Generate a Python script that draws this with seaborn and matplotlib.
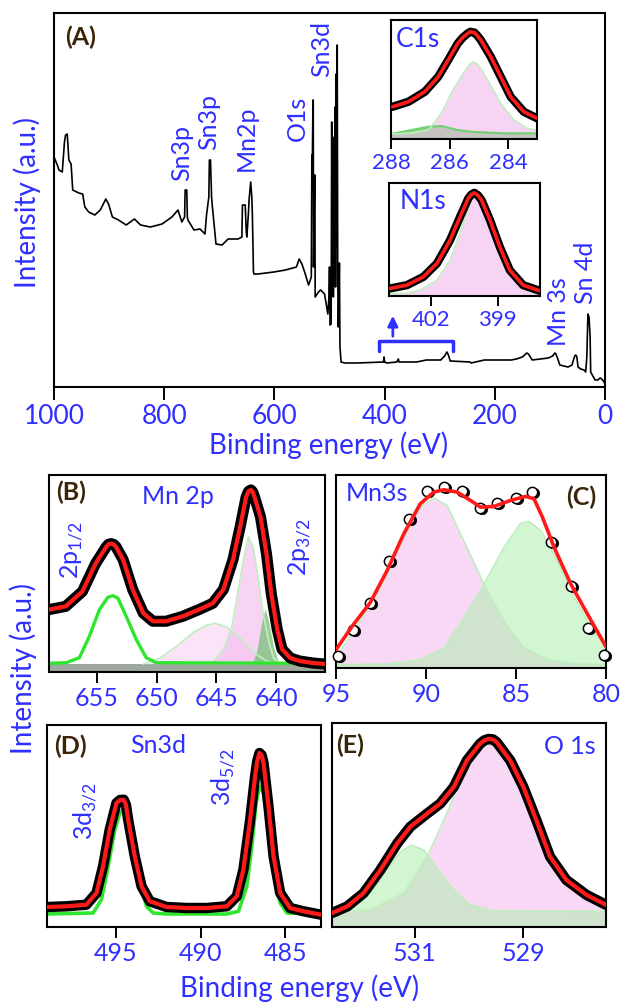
import numpy as np
import matplotlib
matplotlib.use("Agg")
import matplotlib.pyplot as plt
import matplotlib.transforms as mtransforms
import seaborn as sns

# ---------------- data ----------------
# (A) survey spectrum
survey_ev = [1000, 994, 991, 985, 981, 979, 976, 973, 969, 966, 955, 948, 944, 937, 926, 916, 908, 906, 901, 894,
             883, 869, 854, 843, 825, 804, 786, 775, 768, 763, 762, 759, 758, 757, 746, 735, 726, 723, 719, 718,
             716, 714, 713, 706, 695, 684, 666, 659, 658, 653, 651, 650, 647, 646, 643, 641, 640, 638, 637, 630,
             601, 580, 560, 555, 550, 544, 538, 533, 532, 531, 530, 529.5, 529, 527, 526.5, 526, 520, 516, 509, 505,
             503, 501, 500, 499, 497, 496, 495, 494, 493, 492, 491, 490, 489, 488, 487, 486, 485, 484, 482, 481,
             479, 472, 450, 402, 401, 400, 396, 378, 375, 374, 342, 324, 310, 298, 293, 291, 287, 285, 283, 281,
             280, 245, 243, 219, 204, 170, 161, 150, 142, 139, 132, 118, 103, 95, 91, 89, 85, 82, 75, 67,
             60, 55, 53, 51, 49, 44, 38, 35, 33, 31, 29, 27, 26, 24, 18, 13, 9, 6, 3, 0]
survey_int = [230, 222, 217, 215, 245, 252, 253, 227, 223, 197, 194, 193, 180, 175, 172, 177, 186, 188, 183, 170,
              167, 162, 168, 162, 160, 163, 170, 177, 165, 170, 197, 197, 170, 167, 157, 158, 153, 173, 190, 227,
              227, 190, 183, 143, 142, 148, 148, 150, 182, 182, 155, 150, 175, 187, 205, 190, 173, 115, 113, 113,
              115, 117, 120, 128, 123, 113, 102, 110, 232, 232, 287, 287, 120, 212, 212, 90, 95, 97, 93, 80,
              73, 90, 120, 62, 63, 265, 130, 250, 90, 200, 120, 280, 100, 313, 140, 342, 110, 60, 124, 40,
              25, 24, 24, 25, 30, 25, 24, 25, 28, 25, 25, 27, 27, 27, 30, 31, 35, 33, 30, 26,
              26, 25, 24, 27, 27, 27, 28, 30, 34, 33, 27, 28, 29, 31, 34, 33, 27, 22, 21, 20,
              22, 31, 32, 30, 20, 18, 17, 15, 30, 73, 70, 50, 15, 13, 7, 7, 9, 8, 6, 3]
survey_ticks = [1000, 800, 600, 400, 200, 0]
survey_peaks = ["Sn3p", "Sn3p", "Mn2p", "O1s", "Sn3d", "Mn 3s", "Sn 4d"]
survey_peak_ev = [769, 719, 651, 559, 514, 84, 36]
survey_peak_int = [234, 265, 249, 269, 338, 75, 114]
bracket_ev = [410, 410, 276, 276]
bracket_int = [36, 46, 46, 36]
arrow_ev = [385, 385]
arrow_int = [48, 74]

# C1s inset
c1_fit_ev = [287.95, 287.41, 286.85, 286.39, 286.05, 285.72, 285.55, 285.38, 285.29, 285.15, 285.05, 284.93,
             284.59, 284.25, 283.91, 283.46, 283.0]
c1_fit = [32.3, 37.3, 47.3, 62.3, 79, 95.7, 101.5, 105.7, 107.3, 106.5, 103.5, 99,
          82.3, 62.3, 42.3, 27.3, 20.7]
c1_main_ev = [288.0, 287.3, 286.73, 286.28, 285.83, 285.38, 285.21, 285.05, 284.9, 284.70, 284.25, 283.80, 283.34, 283.0]
c1_main = [5, 6, 9, 25.7, 52.3, 72.3, 77.3, 75, 69, 59, 35.7, 19, 10.7, 8.3]
c1_minor_ev = [288.0, 287.3, 286.73, 286.28, 285.72, 285.26, 284.14, 283.0]
c1_minor = [5, 9, 12.3, 13, 9, 7.3, 5.7, 5.7]
c1_ticks = [288, 286, 284]

# N1s inset
n1_fit_ev = [403.84, 403.09, 402.35, 401.74, 401.15, 400.70, 400.33, 400.2, 400.06, 399.9, 399.73, 399.35, 398.91,
             398.46, 397.86, 397.11]
n1_fit = [7.7, 11, 19.3, 32.7, 56, 79.3, 97.7, 101.5, 103.3, 101, 96, 76, 49.3, 26, 11, 5.3]
n1_main_ev = [403.84, 403.09, 402.49, 401.74, 401.15, 400.70, 400.33, 400.18, 400.03, 399.85, 399.65, 399.21,
              398.76, 398.31, 397.71, 397.11]
n1_main = [2.3, 3, 6, 16, 36, 62.7, 89.3, 96.5, 99.3, 97.5, 92.7, 69.3, 42.7, 21, 9.3, 5.3]
n1_ticks = [402, 399]

# (B) Mn 2p
b_fit_ev = [659.0, 657.6, 656.2, 655.1, 654.2, 654.0, 653.8, 653.6, 653.4, 652.8, 652.0, 651.1, 650.3, 649.2,
            647.8, 646.4, 645.3, 644.4, 643.6, 643.0, 642.5, 642.3, 642.1, 641.95, 641.8, 641.3, 640.8, 640.4,
            639.9, 639.5, 638.8, 638.0, 636.9, 635.9]
b_fit = [62.7, 66, 81, 109, 126, 128.5, 129, 128.3, 126, 113, 83, 59, 51, 51,
         56, 63, 69, 83, 113, 146, 176, 181.5, 183, 181, 176, 156, 119, 79,
         43, 23, 14, 11, 9, 8]
b_p12_ev = [659.03, 657.58, 656.46, 655.62, 654.78, 654.08, 653.66, 653.24, 652.54, 651.70, 650.86, 650.02, 635.88]
b_p12 = [8.7, 9.3, 14.3, 36, 62.7, 75, 76.7, 74.3, 56, 32.7, 14.3, 9.3, 8.7]
b_sat_ev = [651.1, 649.7, 648.3, 646.9, 645.8, 645.1, 644.1, 643.0, 641.9, 640.8, 639.7]
b_sat = [8, 14, 26, 40, 47, 49, 45, 34, 20, 11, 8]
b_main_ev = [645.3, 644.4, 643.7, 643.2, 642.7, 642.3, 641.9, 641.5, 641.1, 640.6, 640.2, 639.7]
b_main = [10, 22, 45, 80, 115, 136, 125, 95, 60, 30, 14, 8]
b_low_ev = [642.0, 641.6, 641.2, 640.9, 640.6, 640.2, 639.8, 639.5]
b_low = [8, 22, 50, 64, 50, 25, 10, 8]
b_base = 8
b_ticks = [655, 650, 645, 640]

# (C) Mn 3s
c_pts_ev = [94.87, 94.03, 93.10, 92.08, 90.97, 89.94, 89.01, 88.0, 87.0, 86.04, 85.02, 84.09, 83.07, 81.95, 81.02, 80.09]
c_pts = [11.7, 38.3, 65, 106.7, 148.3, 176, 180, 176, 159.3, 164, 169.3, 175, 125, 81.7, 40, 13.3]
c_fit_ev = [95.0, 94.03, 93.1, 92.17, 91.24, 90.32, 89.57, 89.01, 88.27, 87.53, 86.97, 86.23, 85.30, 84.46, 84.0,
            83.53, 82.88, 81.95, 81.02, 79.96]
c_fit = [18.3, 43.3, 65, 96.7, 133.3, 163.3, 175, 177.3, 175, 166.7, 160, 160.7, 166.7, 170.7, 168.3,
         150, 120, 83.3, 53.3, 20]
c_hi_ev = [95.0, 94.03, 93.10, 92.17, 91.24, 90.32, 89.57, 88.83, 87.9, 86.78, 85.67, 84.55, 83.25, 81.76, 79.96]
c_hi = [10, 36.7, 63, 93, 130, 160, 169.3, 161.7, 126.7, 83.3, 46.7, 20, 8.3, 4, 3.3]
c_lo_ev = [95.0, 92.17, 90.32, 89.0, 87.9, 86.78, 85.67, 84.74, 84.27, 83.62, 82.69, 81.76, 80.83, 79.96]
c_lo = [3.3, 4, 8.3, 20, 50, 83.3, 120, 144, 145.7, 136.7, 106.7, 70, 40, 20]
c_ticks = [95, 90, 85, 80]

# (D) Sn 3d
d_fit_ev = [499.06, 497.92, 496.74, 496.14, 495.75, 495.36, 494.96, 494.75, 494.53, 494.4, 494.27, 493.88, 493.48,
            492.99, 492.0, 490.82, 489.64, 488.45, 487.86, 487.47, 487.07, 486.78, 486.65, 486.52, 486.4, 486.28,
            485.99, 485.69, 485.30, 484.71, 483.92, 482.89]
d_fit = [20, 20.7, 22.3, 34, 60.7, 97.3, 124, 127, 127.3, 122, 107.3, 70.7, 40.7,
         25.7, 20, 19, 19, 20.7, 30.7, 57.3, 107.3, 150.7, 166, 174, 172, 164,
         120.7, 70.7, 34, 19, 15.7, 12.3]
d_comp_ev = [499.06, 496.34, 495.85, 495.45, 495.06, 494.76, 494.53, 494.27, 493.97, 493.58, 493.19, 492.79, 492.0,
             488.45, 487.76, 487.27, 486.97, 486.72, 486.52, 486.28, 485.99, 485.69, 485.30, 484.90, 482.89]
d_comp = [13, 14, 27.3, 60.7, 97.3, 114, 117.3, 110.7, 80.7, 44, 20.7, 14, 13,
          13, 15.7, 40.7, 80.7, 124, 140.7, 134, 97.3, 54, 24, 14, 13]
d_ticks = [495, 490, 485]

# (E) O 1s
e_fit_ev = [532.52, 532.24, 531.94, 531.63, 531.32, 531.08, 530.77, 530.53, 530.28, 530.04, 529.80, 529.72, 529.64,
            529.56, 529.49, 529.24, 529.0, 528.76, 528.51, 528.21, 527.84, 527.48]
e_fit = [14, 20.7, 34, 57.3, 84, 100.7, 114, 124, 140.7, 167.3, 184, 187.5, 189,
         188.5, 185.7, 167.3, 140.7, 107.3, 70.7, 47.3, 32.3, 22.3]
e_hi_ev = [532.52, 532.12, 531.81, 531.51, 531.26, 531.05, 530.83, 530.59, 530.28, 529.98, 529.55, 527.48]
e_hi = [15, 20.7, 34, 57.3, 75.7, 82.3, 77.3, 59, 37.3, 22.3, 16.3, 15.7]
e_lo_ev = [532.52, 531.81, 531.20, 530.77, 530.41, 530.10, 529.86, 529.64, 529.43, 529.18, 528.94, 528.69, 528.45,
           528.14, 527.84, 527.48]
e_lo = [15, 17.3, 34, 70.7, 114, 154, 177.3, 184, 179, 160.7, 130.7, 97.3, 67.3, 44, 30.7, 20.7]
e_ticks = [531, 529]

# ---------------- style ----------------
sns.set_style("white")
plt.rcParams["font.family"] = ["Lato", "DejaVu Sans"]
plt.rcParams["mathtext.fontset"] = "custom"
plt.rcParams["mathtext.rm"] = "Lato"

BLUE = "#2f2fff"
DARK = "#3a2508"
PINK = "#f4b2ec"
LGREEN = "#a6eea6"
EDGE = "#bfeebf"
LIME = "#2ee62e"
RED = "#ff1a1a"

W, H = 623, 1006
fig = plt.figure(figsize=(W / 100, H / 100), dpi=100)


def box(x0, y0, x1, y1):
    return [x0 / W, 1 - y1 / H, (x1 - x0) / W, (y1 - y0) / H]


def style_axes(ax, ticks, size, length=8):
    ax.set_xticks(ticks)
    ax.set_yticks([])
    ax.tick_params(axis="x", direction="out", length=length, width=1.4, color="black",
                   labelcolor=BLUE, labelsize=size, pad=3, bottom=True)
    for s in ax.spines.values():
        s.set_linewidth(1.5)
        s.set_color("black")
        s.set_visible(True)
    ax.set_xlabel("")
    ax.set_ylabel("")


def line(ax, x, y, color, lw, z=3, alpha=1.0):
    sns.lineplot(x=x, y=y, ax=ax, color=color, lw=lw, sort=False, estimator=None, zorder=z, alpha=alpha,
                 solid_joinstyle="round", solid_capstyle="round")


def band(ax, x, y, lw):
    line(ax, x, y, "black", lw, z=4)
    ax.plot(x, y, color="white", lw=1.0, ls=(0, (1, 3)), zorder=4.5, alpha=0.9)


def component(ax, x, y, color, alpha, base=0.0, z=1):
    ax.fill_between(x, base, y, color=color, alpha=alpha, lw=0, zorder=z)
    line(ax, x, y, EDGE, 1.2, z=z + 0.5)


# ---------------- (A) survey ----------------
axA = fig.add_axes(box(54, 13, 605, 387))
line(axA, survey_ev, survey_int, "black", 1.2)
axA.set_xlim(1000, 0)
axA.set_ylim(0, 374)
style_axes(axA, survey_ticks, 19, length=9)
axA.text(0.049, 0.936, "(A)", transform=axA.transAxes, ha="center", va="center",
         fontsize=18, fontweight="bold", color=DARK)
for lab, xe, yi in zip(survey_peaks, survey_peak_ev, survey_peak_int):
    axA.text(xe, yi, lab, rotation=90, ha="center", va="center", fontsize=18, color=BLUE)
line(axA, bracket_ev, bracket_int, BLUE, 2.5)
axA.annotate("", xy=(arrow_ev[1], arrow_int[1]), xytext=(arrow_ev[0], arrow_int[0]),
             arrowprops=dict(arrowstyle="-|>,head_length=0.6,head_width=0.3", color=BLUE, lw=2))

# C1s inset
axC1 = axA.inset_axes([0.612, 0.663, 0.265, 0.318])
axC1.fill_between(c1_minor_ev, 0, c1_minor, color="#8fd98f", lw=0, zorder=1)
component(axC1, c1_main_ev, c1_main, PINK, 0.55, z=1.2)
line(axC1, c1_minor_ev, c1_minor, "#6fd06f", 1.5, z=1.6)
band(axC1, c1_fit_ev, c1_fit, 6)
line(axC1, c1_fit_ev, c1_fit, RED, 2.6, z=5)
axC1.set_xlim(288, 283)
axC1.set_ylim(0, 119)
style_axes(axC1, c1_ticks, 16, length=7)
axC1.text(0.185, 0.84, "C1s", transform=axC1.transAxes, ha="center", va="center", fontsize=19, color=BLUE)

# N1s inset
axN1 = axA.inset_axes([0.608, 0.243, 0.274, 0.302])
component(axN1, n1_main_ev, n1_main, PINK, 0.55, z=1.2)
band(axN1, n1_fit_ev, n1_fit, 6)
line(axN1, n1_fit_ev, n1_fit, RED, 2.6, z=5)
axN1.set_xlim(403.9, 397.1)
axN1.set_ylim(0, 113)
style_axes(axN1, n1_ticks, 16, length=7)
axN1.text(0.225, 0.84, "N1s", transform=axN1.transAxes, ha="center", va="center", fontsize=19, color=BLUE)

# ---------------- (B) Mn 2p ----------------
axB = fig.add_axes(box(49, 475, 325, 672))
axB.fill_between(b_fit_ev, 0, b_base, color="#9ea89e", lw=0, zorder=1)
component(axB, b_sat_ev, b_sat, PINK, 0.35, base=b_base, z=1.2)
component(axB, b_main_ev, b_main, PINK, 0.55, base=b_base, z=1.4)
axB.fill_between(b_low_ev, b_base, b_low, color="#78c078", alpha=0.75, lw=0, zorder=1.6)
line(axB, b_p12_ev, b_p12, LIME, 2.4, z=2)
band(axB, b_fit_ev, b_fit, 8)
line(axB, b_fit_ev, b_fit, RED, 3, z=5)
axB.set_xlim(659.0, 635.9)
axB.set_ylim(0, 198)
style_axes(axB, b_ticks, 18)
axB.text(0.08, 0.914, "(B)", transform=axB.transAxes, ha="center", va="center",
         fontsize=18, fontweight="bold", color=DARK)
axB.text(0.467, 0.889, "Mn 2p", transform=axB.transAxes, ha="center", va="center", fontsize=18, color=BLUE)
axB.text(0.083, 0.62, r"2p$_{\mathregular{1/2}}$", transform=axB.transAxes, rotation=90,
         ha="center", va="center", fontsize=18, color=BLUE)
axB.text(0.909, 0.636, r"2p$_{\mathregular{3/2}}$", transform=axB.transAxes, rotation=90,
         ha="center", va="center", fontsize=18, color=BLUE)

# ---------------- (C) Mn 3s ----------------
axCc = fig.add_axes(box(336, 475, 606, 668))
axCc.fill_between(c_hi_ev, 0, c_hi, color=PINK, alpha=0.5, lw=0, zorder=1)
line(axCc, c_hi_ev, c_hi, EDGE, 1.2, z=1.5)
axCc.fill_between(c_lo_ev, 0, c_lo, color=LGREEN, alpha=0.5, lw=0, zorder=1.2)
line(axCc, c_lo_ev, c_lo, EDGE, 1.2, z=1.6)
line(axCc, c_fit_ev, c_fit, RED, 2.6, z=5)
shift = mtransforms.ScaledTranslation(2.0 / 100, -1.0 / 100, fig.dpi_scale_trans)
sns.scatterplot(x=c_pts_ev, y=c_pts, ax=axCc, s=55, color="black", edgecolor="black", zorder=3, clip_on=False)
axCc.collections[-1].set_offset_transform(axCc.transData + shift)
sns.scatterplot(x=c_pts_ev, y=c_pts, ax=axCc, s=55, facecolor="white", edgecolor="black", linewidth=1.1,
                zorder=3.5, clip_on=False)
axCc.set_xlim(95, 80)
axCc.set_ylim(0, 192)
style_axes(axCc, c_ticks, 18)
axCc.text(0.152, 0.906, "Mn3s", transform=axCc.transAxes, ha="center", va="center", fontsize=18, color=BLUE)
axCc.text(0.907, 0.885, "(C)", transform=axCc.transAxes, ha="center", va="center",
          fontsize=18, fontweight="bold", color=DARK)

# ---------------- (D) Sn 3d ----------------
axD = fig.add_axes(box(47, 725, 321, 927))
line(axD, d_comp_ev, d_comp, LIME, 2.6, z=2)
band(axD, d_fit_ev, d_fit, 7.5)
line(axD, d_fit_ev, d_fit, RED, 3, z=5)
axD.set_xlim(499.06, 482.89)
axD.set_ylim(0, 202)
style_axes(axD, d_ticks, 18)
axD.text(0.084, 0.896, "(D)", transform=axD.transAxes, ha="center", va="center",
         fontsize=18, fontweight="bold", color=DARK)
axD.text(0.405, 0.9, "Sn3d", transform=axD.transAxes, ha="center", va="center", fontsize=18, color=BLUE)
axD.text(0.139, 0.574, r"3d$_{\mathregular{3/2}}$", transform=axD.transAxes, rotation=90,
         ha="center", va="center", fontsize=18, color=BLUE)
axD.text(0.642, 0.743, r"3d$_{\mathregular{5/2}}$", transform=axD.transAxes, rotation=90,
         ha="center", va="center", fontsize=18, color=BLUE)

# ---------------- (E) O 1s ----------------
axE = fig.add_axes(box(332, 723, 606, 927))
axE.fill_between(e_lo_ev, 0, e_lo, color=PINK, alpha=0.5, lw=0, zorder=1)
line(axE, e_lo_ev, e_lo, EDGE, 1.2, z=1.5)
axE.fill_between(e_hi_ev, 0, e_hi, color=LGREEN, alpha=0.5, lw=0, zorder=1.2)
line(axE, e_hi_ev, e_hi, EDGE, 1.2, z=1.6)
band(axE, e_fit_ev, e_fit, 7.5)
line(axE, e_fit_ev, e_fit, RED, 3, z=5)
axE.set_xlim(532.52, 527.48)
axE.set_ylim(0, 205)
style_axes(axE, e_ticks, 18)
axE.text(0.066, 0.892, "(E)", transform=axE.transAxes, ha="center", va="center",
         fontsize=18, fontweight="bold", color=DARK)
axE.text(0.869, 0.887, "O 1s", transform=axE.transAxes, ha="center", va="center", fontsize=18, color=BLUE)

# ---------------- shared labels ----------------
fig.text(27 / W, 1 - 203 / H, "Intensity (a.u.)", rotation=90, ha="center", va="center", fontsize=20, color=BLUE)
fig.text(23 / W, 1 - 669 / H, "Intensity (a.u.)", rotation=90, ha="center", va="center", fontsize=20, color=BLUE)
fig.text(329 / W, 1 - 445 / H, "Binding energy (eV)", ha="center", va="center", fontsize=20, color=BLUE)
fig.text(300 / W, 1 - 988 / H, "Binding energy (eV)", ha="center", va="center", fontsize=20, color=BLUE)

fig.savefig("out.png", dpi=100)
